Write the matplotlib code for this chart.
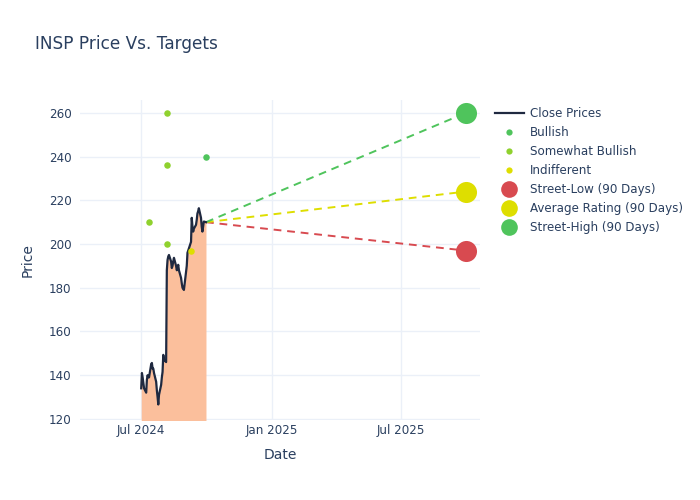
import pandas as pd
import matplotlib.pyplot as plt
import matplotlib.dates as mdates
from matplotlib.lines import Line2D

# close prices (trading days Jul 1 - Sep 30 2024)
close_prices = [134, 141, 139, 134, 132, 138, 140, 139, 139, 145,
                145.6, 143, 143, 141, 137, 133, 130, 126.6, 131, 135.6,
                139, 141.5, 149.3, 147, 146, 188, 192.7, 194.3, 195, 192,
                189, 190, 192, 193.7, 190, 188, 189, 190.5, 188, 184.5,
                182, 180, 179.5, 179, 190, 196, 197, 198, 201, 212,
                208, 205.7, 207, 208.8, 211, 214, 215, 216.4, 212, 208,
                205.7, 208, 210.3, 210]
close_dates = pd.bdate_range('2024-07-01', '2024-09-30', freq='C',
                             holidays=['2024-07-04', '2024-09-02'])

# analyst ratings
bullish_dates = ['2024-09-30']
bullish_values = [240]
somewhat_dates = ['2024-07-12', '2024-08-06', '2024-08-06', '2024-08-06']
somewhat_values = [210, 260, 236, 200]
indiff_dates = ['2024-09-09']
indiff_values = [197]

# targets (90 days)
target_start = '2024-09-30'
target_end = '2025-09-30'
last_close = 210
street_low = 197
avg_rating = 224
street_high = 260

text_col = '#2a3f5f'
grid_col = '#ebf0f8'
c_green = '#4fc45c'
c_lime = '#8fd12e'
c_yellow = '#dede00'
c_red = '#d84a50'

fig = plt.figure(figsize=(7, 5), dpi=100)
ax = fig.add_axes([80 / 700, 80 / 500, 400 / 700, 320 / 500])

x = pd.to_datetime(close_dates)
ax.fill_between(x, close_prices, 0, color='#fbbf9c', lw=0, zorder=1)
ax.plot(x, close_prices, color='#1f2940', lw=1.6, zorder=3)

ts, te = pd.to_datetime(target_start), pd.to_datetime(target_end)
ax.plot([ts, te], [last_close, street_low], color=c_red, lw=1.4, ls=(0, (4, 3)), zorder=2)
ax.plot([ts, te], [last_close, avg_rating], color=c_yellow, lw=1.4, ls=(0, (4, 3)), zorder=2)
ax.plot([ts, te], [last_close, street_high], color=c_green, lw=1.4, ls=(0, (4, 3)), zorder=2)

ax.scatter(pd.to_datetime(bullish_dates), bullish_values, s=22, color=c_green, lw=0, zorder=4)
ax.scatter(pd.to_datetime(somewhat_dates), somewhat_values, s=22, color=c_lime, lw=0, zorder=4)
ax.scatter(pd.to_datetime(indiff_dates), indiff_values, s=22, color=c_yellow, lw=0, zorder=4)

ax.scatter([te], [street_low], s=230, color=c_red, lw=0, zorder=5)
ax.scatter([te], [avg_rating], s=230, color=c_yellow, lw=0, zorder=5)
ax.scatter([te], [street_high], s=230, color=c_green, lw=0, zorder=5)

ax.set_xlim(pd.Timestamp('2024-04-06'), pd.Timestamp('2025-10-20'))
ax.set_ylim(119.5, 265.9)
ax.set_yticks([120, 140, 160, 180, 200, 220, 240, 260])
ax.set_xticks(pd.to_datetime(['2024-07-01', '2025-01-01', '2025-07-01']))
ax.xaxis.set_major_formatter(mdates.DateFormatter('%b %Y'))

for s in ax.spines.values():
    s.set_visible(False)
ax.grid(True, color=grid_col, lw=1)
ax.set_axisbelow(True)
ax.tick_params(length=0, labelsize=8.6, colors=text_col)
ax.tick_params(axis='x', pad=3)
ax.tick_params(axis='y', pad=6)
ax.set_xlabel('Date', fontsize=10, color=text_col, labelpad=8)
ax.set_ylabel('Price', fontsize=10, color=text_col, labelpad=10)

fig.text(35 / 700, 1 - 44 / 500, 'INSP Price Vs. Targets', fontsize=12.2,
         color=text_col, va='center', ha='left')

handles = [
    Line2D([], [], color='#1f2940', lw=1.6),
    Line2D([], [], ls='', marker='o', ms=4.5, color=c_green, mew=0),
    Line2D([], [], ls='', marker='o', ms=4.5, color=c_lime, mew=0),
    Line2D([], [], ls='', marker='o', ms=4.5, color=c_yellow, mew=0),
    Line2D([], [], ls='', marker='o', ms=12, color=c_red, mew=0),
    Line2D([], [], ls='', marker='o', ms=12, color=c_yellow, mew=0),
    Line2D([], [], ls='', marker='o', ms=12, color=c_green, mew=0),
]
labels = ['Close Prices', 'Bullish', 'Somewhat Bullish', 'Indifferent',
          'Street-Low (90 Days)', 'Average Rating (90 Days)', 'Street-High (90 Days)']
leg = fig.legend(handles, labels, loc='upper left', bbox_to_anchor=(495 / 700, 1 - 107 / 500),
                 frameon=False, fontsize=8.6, labelspacing=0.5, handlelength=2.4,
                 handletextpad=0.55, borderaxespad=0, borderpad=0)
for t in leg.get_texts():
    t.set_color(text_col)

fig.savefig('out.png', dpi=100)
